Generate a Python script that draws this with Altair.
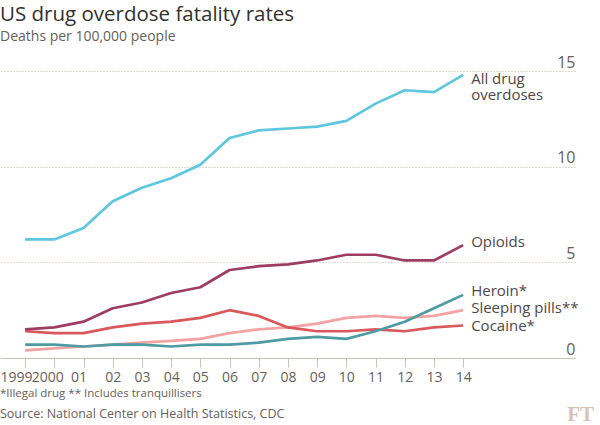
import altair as alt
import pandas as pd

# ---- data ----
YEARS = list(range(1999, 2015))
X_TICK_LABELS = ["1999", "2000", "01", "02", "03", "04", "05", "06", "07", "08",
                 "09", "10", "11", "12", "13", "14"]

ALL_DRUG = [6.2, 6.2, 6.8, 8.2, 8.9, 9.4, 10.1, 11.5, 11.9, 12.0, 12.1, 12.4, 13.3, 14.0, 13.9, 14.8]
OPIOIDS = [1.5, 1.6, 1.9, 2.6, 2.9, 3.4, 3.7, 4.6, 4.8, 4.9, 5.1, 5.4, 5.4, 5.1, 5.1, 5.9]
HEROIN = [0.7, 0.7, 0.6, 0.7, 0.7, 0.6, 0.7, 0.7, 0.8, 1.0, 1.1, 1.0, 1.4, 1.9, 2.6, 3.3]
SLEEPING = [0.4, 0.5, 0.6, 0.7, 0.8, 0.9, 1.0, 1.3, 1.5, 1.6, 1.8, 2.1, 2.2, 2.1, 2.2, 2.5]
COCAINE = [1.4, 1.3, 1.3, 1.6, 1.8, 1.9, 2.1, 2.5, 2.2, 1.6, 1.4, 1.4, 1.5, 1.4, 1.6, 1.7]

SERIES_NAMES = ["Sleeping pills", "Cocaine", "Heroin", "Opioids", "All drug overdoses"]
SERIES_LABELS = ["Sleeping pills**", "Cocaine*", "Heroin*", "Opioids", "All drug\noverdoses"]
SERIES_COLORS = ["#f4a3a2", "#d9585c", "#4e9ba3", "#9d3d62", "#5ec6dd"]
Y_TICKS = [0, 5, 10, 15]

TITLE = "US drug overdose fatality rates"
SUBTITLE = "Deaths per 100,000 people"
FOOTNOTE = "*Illegal drug ** Includes tranquillisers"
SOURCE = "Source: National Center on Health Statistics, CDC"

values_by_series = {
    "Sleeping pills": SLEEPING,
    "Cocaine": COCAINE,
    "Heroin": HEROIN,
    "Opioids": OPIOIDS,
    "All drug overdoses": ALL_DRUG,
}

rows = []
for name, label in zip(SERIES_NAMES, SERIES_LABELS):
    for yr, v in zip(YEARS, values_by_series[name]):
        rows.append({"year": yr, "value": v, "series": name, "label": label})
df = pd.DataFrame(rows)

FONT = "Open Sans"
W, H = 575, 306

label_map = ", ".join(f"'{y}': '{l}'" for y, l in zip(YEARS, X_TICK_LABELS))
label_expr = "({" + label_map + "})[datum.value]"

x_scale = alt.Scale(domain=[1998.14, 2017.83], nice=False, zero=False)
y_scale = alt.Scale(domain=[0, 16], nice=False)
color_scale = alt.Scale(domain=SERIES_NAMES, range=SERIES_COLORS)

x_axis = alt.Axis(values=YEARS, title=None, labelExpr=label_expr,
                  labelOverlap=False, grid=False, domain=True,
                  domainColor="#c9c0b7", domainWidth=1.2,
                  ticks=True, tickColor="#c9c0b7", tickSize=9, tickWidth=1,
                  labelFont=FONT, labelFontSize=14, labelColor="#66605c",
                  labelPadding=3,
                  labelOffset=alt.ExprRef("datum.value == 1999 ? -9 : datum.value == 2000 ? -7 : datum.value == 2001 ? -5 : 0"))
y_axis = alt.Axis(values=Y_TICKS, orient="right", title=None, domain=False,
                  ticks=False, grid=True, gridColor="#c4b5a5",
                  gridDash=[1, 2], gridWidth=1, labelOverlap=False,
                  labelAlign="right", labelBaseline="alphabetic",
                  labelPadding=0, labelOffset=-4,
                  labelFont=FONT, labelFontSize=16, labelColor="#66605c")

base = alt.Chart(df)

lines = base.mark_line(strokeWidth=2.7, strokeJoin="round").encode(
    x=alt.X("year:Q", scale=x_scale, axis=x_axis),
    y=alt.Y("value:Q", scale=y_scale, axis=y_axis),
    color=alt.Color("series:N", scale=color_scale, legend=None),
    order=alt.Order("year:Q"),
)

label_dy = {
    "Sleeping pills": -2,
    "Cocaine": 1,
    "Heroin": -3.5,
    "Opioids": -3,
    "All drug overdoses": -3,
}

label_layers = []
for name in SERIES_NAMES:
    baseline = "top" if name == "All drug overdoses" else "middle"
    label_layers.append(
        base.transform_filter(
            (alt.datum.series == name) & (alt.datum.year == YEARS[-1])
        ).mark_text(align="left", baseline=baseline, dx=8, dy=label_dy[name],
                    font=FONT, fontSize=15, color="#4e4946", lineBreak="\n",
                    lineHeight=16).encode(
            x=alt.X("year:Q", scale=x_scale, axis=x_axis),
            y=alt.Y("value:Q", scale=y_scale, axis=y_axis),
            text="label:N",
        )
    )

def text_at(txt, x, y, size, color, font=FONT, weight="normal", align="left", baseline="alphabetic"):
    return alt.Chart(pd.DataFrame({"t": [txt]})).mark_text(
        align=align, baseline=baseline, font=font, fontSize=size,
        color=color, fontWeight=weight
    ).encode(x=alt.value(x), y=alt.value(y), text="t:N")

title = text_at(TITLE, 0, 21 - 52, 20.5, "#33302e")
subtitle = text_at(SUBTITLE, 0, 41 - 52, 14, "#66605c")
foot = text_at(FOOTNOTE, 0, 397 - 52, 11.5, "#66605c")
source = text_at(SOURCE, 0, 418 - 52, 12.5, "#66605c")
ft = text_at("FT", 594, 421 - 52, 21, "#d5c4b3", font="Liberation Serif",
             weight="bold", align="right")

chart = alt.layer(lines, *label_layers, title, subtitle, foot, source, ft).properties(
    width=W, height=H,
    autosize=alt.AutoSizeParams(type="none"),
    padding={"left": 0, "top": 52, "right": 25, "bottom": 67},
    background="#ffffff",
).configure_view(stroke=None).configure_axis(labelOverlap=False)

chart.save("out.html", embed_options={"renderer": "svg", "actions": False})
